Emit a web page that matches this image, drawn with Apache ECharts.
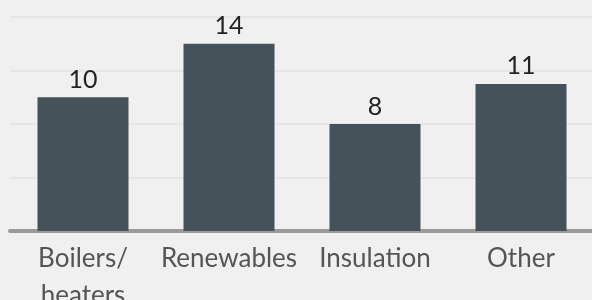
<!DOCTYPE html>
<html>
<head>
<meta charset="utf-8">
<script src="https://cdn.jsdelivr.net/npm/echarts@6/dist/echarts.min.js"></script>
<style>
  html, body { margin: 0; padding: 0; background: #f0f0f0; }
  #chart { width: 592px; height: 300px; }
</style>
</head>
<body>
<div id="chart"></div>
<script>
// data
const categories = ['Boilers/\nheaters', 'Renewables', 'Insulation', 'Other'];
const values = [10, 14, 8, 11];

const chart = echarts.init(document.getElementById('chart'), null, { renderer: 'canvas' });

chart.setOption({
  backgroundColor: '#f0f0f0',
  animation: false,
  grid: { left: 10, right: -2, top: 17, bottom: 69, containLabel: false, outerBoundsMode: 'none' },
  xAxis: {
    type: 'category',
    data: categories,
    axisLine: { show: true, lineStyle: { color: '#9a9a9a', width: 4 } },
    axisTick: { show: false },
    axisLabel: {
      color: '#555',
      fontFamily: 'Lato',
      fontSize: 26,
      lineHeight: 37,
      margin: 9,
      interval: 0
    }
  },
  yAxis: {
    type: 'value',
    min: 0,
    max: 16,
    interval: 4,
    axisLine: { show: false },
    axisTick: { show: false },
    axisLabel: { show: false },
    splitLine: { lineStyle: { color: '#e6e6e6', width: 2 } }
  },
  series: [{
    type: 'bar',
    data: values,
    barWidth: 91,
    itemStyle: { color: '#45525a' },
    label: {
      show: true,
      position: 'top',
      distance: 5,
      color: '#222',
      fontFamily: 'Lato',
      fontSize: 25
    }
  }]
});
</script>
</body>
</html>
